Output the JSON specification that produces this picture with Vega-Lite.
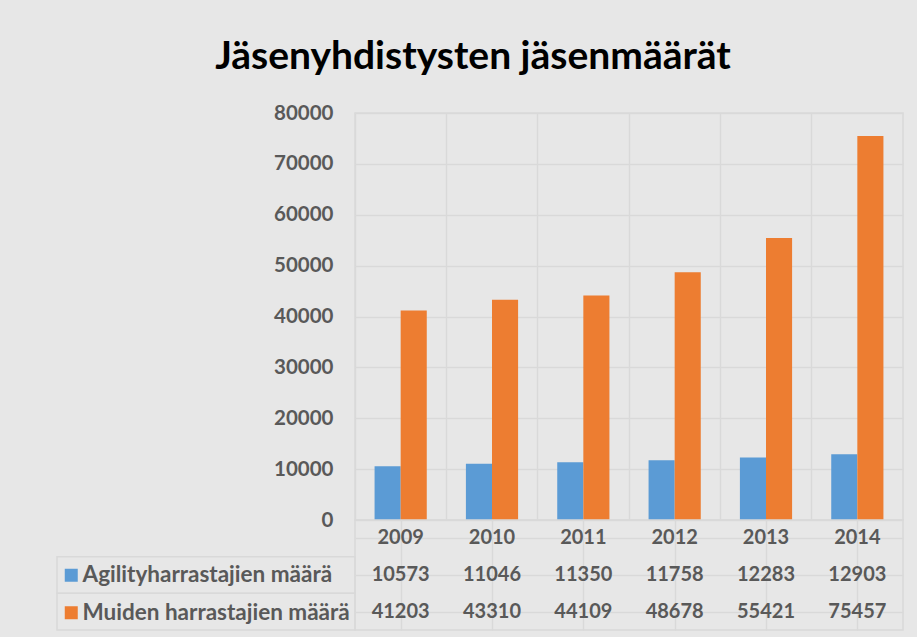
{
  "$schema": "https://vega.github.io/schema/vega-lite/v6.json",
  "background": "#e7e7e7",
  "padding": {"left": 56, "top": 38, "right": 15, "bottom": 7},
  "title": {"text": "Jäsenyhdistysten jäsenmäärät", "font": "Lato", "fontSize": 39, "fontWeight": "bold", "color": "#000000", "anchor": "middle", "offset": 25, "dx": -7},
  "datasets": {
    "d": [
      {"vuosi": "2009", "sarja": "Agilityharrastajien määrä", "arvo": 10573},
      {"vuosi": "2010", "sarja": "Agilityharrastajien määrä", "arvo": 11046},
      {"vuosi": "2011", "sarja": "Agilityharrastajien määrä", "arvo": 11350},
      {"vuosi": "2012", "sarja": "Agilityharrastajien määrä", "arvo": 11758},
      {"vuosi": "2013", "sarja": "Agilityharrastajien määrä", "arvo": 12283},
      {"vuosi": "2014", "sarja": "Agilityharrastajien määrä", "arvo": 12903},
      {"vuosi": "2009", "sarja": "Muiden harrastajien määrä", "arvo": 41203},
      {"vuosi": "2010", "sarja": "Muiden harrastajien määrä", "arvo": 43310},
      {"vuosi": "2011", "sarja": "Muiden harrastajien määrä", "arvo": 44109},
      {"vuosi": "2012", "sarja": "Muiden harrastajien määrä", "arvo": 48678},
      {"vuosi": "2013", "sarja": "Muiden harrastajien määrä", "arvo": 55421},
      {"vuosi": "2014", "sarja": "Muiden harrastajien määrä", "arvo": 75457}
    ]
  },
  "data": {"name": "d"},
  "config": {
    "font": "Lato",
    "view": {"stroke": "#d9d9d9", "strokeWidth": 1.5},
    "axis": {"gridColor": "#d9d9d9", "gridWidth": 1.5, "labelFont": "Lato", "labelFontSize": 20.5, "labelFontWeight": "bold", "labelColor": "#595959"},
    "text": {"font": "Lato", "fontSize": 20, "fontWeight": "bold", "color": "#595959"}
  },
  "bounds": "flush",
  "spacing": 0,
  "columns": 2,
  "concat": [
    {
      "width": 298, "height": 407,
      "view": {"stroke": null},
      "mark": {"type": "text"},
      "encoding": {"text": {"value": ""}}
    },
    {
      "width": 548, "height": 407,
      "mark": {"type": "bar"},
      "encoding": {
        "x": {"field": "vuosi", "type": "nominal", "scale": {"paddingInner": 0, "paddingOuter": 0},
              "axis": {"labels": false, "ticks": false, "domain": false, "title": null, "grid": true, "bandPosition": 0}},
        "xOffset": {"field": "sarja", "type": "nominal", "scale": {"paddingInner": 0, "paddingOuter": 0.75}},
        "y": {"field": "arvo", "type": "quantitative", "scale": {"domain": [0, 80000]},
              "axis": {"title": null, "values": [0, 10000, 20000, 30000, 40000, 50000, 60000, 70000, 80000], "format": "d", "ticks": false, "domain": false, "labelPadding": 22}},
        "color": {"field": "sarja", "type": "nominal",
                  "scale": {"domain": ["Agilityharrastajien määrä", "Muiden harrastajien määrä"], "range": ["#5b9bd5", "#ed7d31"]},
                  "legend": {"orient": "none", "legendX": 3, "legendY": 451, "title": null, "symbolType": "square", "symbolSize": 169, "symbolStrokeWidth": 0,
                             "labelFont": "Lato", "labelFontSize": 22.5, "labelFontWeight": "bold", "labelColor": "#595959", "labelOffset": 0, "rowPadding": 14.5, "labelLimit": 400}}
      }
    },
    {
      "width": 298, "height": 110,
      "view": {"stroke": null},
      "transform": [{"filter": "datum.vuosi == '2009'"}],
      "mark": {"type": "bar", "fill": "transparent", "stroke": "#d9d9d9", "strokeWidth": 1.5},
      "encoding": {
        "y": {"field": "sarja", "type": "nominal",
              "scale": {"domain": ["Vuosi", "Agilityharrastajien määrä", "Muiden harrastajien määrä"], "paddingInner": 0, "paddingOuter": 0},
              "axis": null}
      }
    },
    {
      "width": 548, "height": 110,
      "encoding": {
        "x": {"field": "vuosi", "type": "nominal", "scale": {"paddingInner": 0, "paddingOuter": 0},
              "axis": {"labels": false, "ticks": false, "domain": false, "title": null, "grid": true, "bandPosition": 0}}
      },
      "layer": [
        {
          "transform": [{"filter": "datum.sarja == 'Agilityharrastajien määrä'"}],
          "mark": {"type": "text"},
          "encoding": {
            "y": {"datum": "Vuosi", "type": "nominal",
                  "scale": {"domain": ["Vuosi", "Agilityharrastajien määrä", "Muiden harrastajien määrä"], "paddingInner": 0, "paddingOuter": 0},
                  "axis": {"labels": false, "ticks": false, "domain": false, "title": null, "grid": true, "bandPosition": 0}},
            "text": {"field": "vuosi", "type": "nominal"}
          }
        },
        {
          "mark": {"type": "text"},
          "encoding": {
            "y": {"field": "sarja", "type": "nominal",
                  "axis": {"labels": false, "ticks": false, "domain": false, "title": null, "grid": true, "bandPosition": 0}},
            "text": {"field": "arvo", "type": "quantitative", "format": "d"}
          }
        }
      ]
    }
  ]
}
